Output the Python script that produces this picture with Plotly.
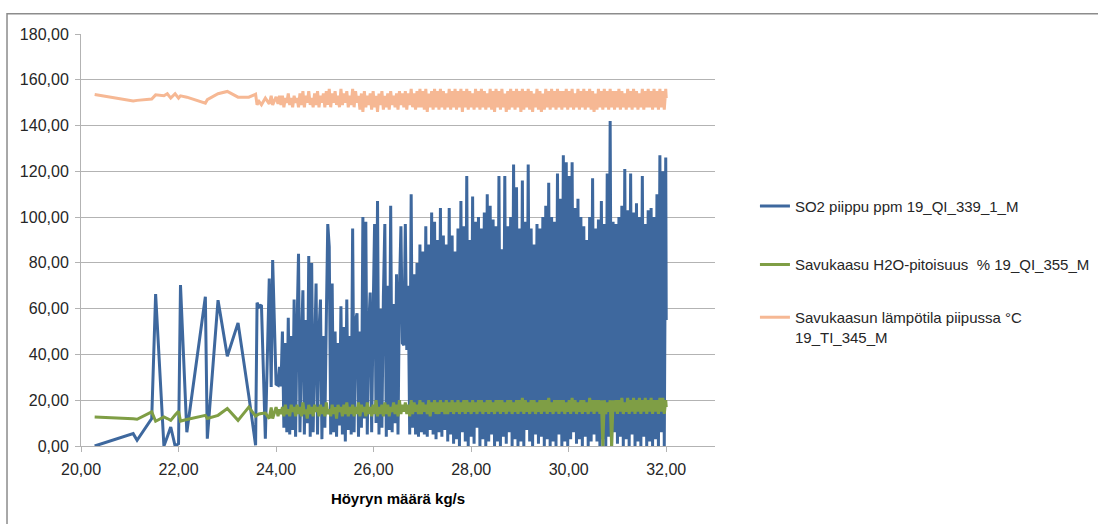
import plotly.graph_objects as go

# ---------------- data ----------------
x_title = "Höyryn määrä kg/s"
series_names = [
    "SO2 piippu ppm 19_QI_339_1_M",
    "Savukaasu H2O-pitoisuus  % 19_QI_355_M",
    "Savukaasun lämpötila piipussa °C<br>19_TI_345_M",
]
series_colors = ["#3E689E", "#7F9E45", "#F6B894"]

y_tick_values = [0, 20, 40, 60, 80, 100, 120, 140, 160, 180]
y_tick_labels = ["0,00", "20,00", "40,00", "60,00", "80,00", "100,00",
                 "120,00", "140,00", "160,00", "180,00"]
x_tick_values = [20, 22, 24, 26, 28, 30, 32]
x_tick_labels = ["20,00", "22,00", "24,00", "26,00", "28,00", "30,00", "32,00"]

# low-load part (few rows)
steam_sparse = [20.28, 21.07, 21.15, 21.45, 21.53, 21.70, 21.77, 21.84, 21.93, 22.00,
                22.04, 22.17, 22.55, 22.59, 22.81, 23.00, 23.22, 23.44, 23.58, 23.61,
                23.65, 23.70, 23.78, 23.86, 23.90, 23.93, 24.00, 24.04, 24.07]
so2_sparse = [0.0, 5.4, 2.5, 12.0, 66.4, 0.0, 4.0, 8.3, 0.0, 1.0,
              70.3, 6.0, 65.2, 3.2, 63.7, 39.2, 53.8, 22.0, 0.3, 62.6,
              60.8, 61.6, 3.2, 73.2, 25.8, 81.2, 27.0, 26.5, 34.6]
h2o_sparse = [12.7, 11.9, 11.7, 14.9, 10.8, 12.7, 12.0, 11.2, 13.5, 15.2,
              10.9, 11.6, 13.4, 12.0, 13.4, 16.4, 11.2, 17.0, 13.0, 13.5,
              14.0, 14.2, 14.4, 12.0, 16.8, 12.0, 17.0, 13.0, 16.0]
temp_sparse = [153.6, 150.7, 151.0, 151.6, 153.4, 153.0, 153.9, 152.0, 153.9, 152.0,
               153.0, 152.4, 149.8, 151.3, 153.9, 154.9, 152.4, 152.4, 153.7, 149.1,
               150.5, 149.1, 152.0, 149.5, 153.0, 149.0, 152.5, 149.5, 153.0]

# high-load part (dense rows)
steam_dense = [
    24.10, 24.13, 24.16, 24.19, 24.22, 24.25, 24.28, 24.31, 24.34, 24.37, 24.40, 24.43,
    24.46, 24.49, 24.52, 24.55, 24.58, 24.61, 24.64, 24.67, 24.70, 24.73, 24.76, 24.79,
    24.82, 24.85, 24.88, 24.91, 24.94, 24.97, 25.00, 25.03, 25.06, 25.09, 25.12, 25.15,
    25.18, 25.21, 25.24, 25.27, 25.30, 25.33, 25.36, 25.39, 25.42, 25.45, 25.48, 25.51,
    25.54, 25.57, 25.60, 25.63, 25.66, 25.69, 25.72, 25.75, 25.78, 25.81, 25.84, 25.87,
    25.90, 25.93, 25.96, 25.99, 26.02, 26.05, 26.08, 26.11, 26.14, 26.17, 26.20, 26.23,
    26.26, 26.29, 26.32, 26.35, 26.38, 26.41, 26.44, 26.47, 26.50, 26.53, 26.56, 26.59,
    26.62, 26.65, 26.68, 26.71, 26.74, 26.77, 26.80, 26.83, 26.86, 26.89, 26.92, 26.95,
    26.98, 27.01, 27.04, 27.07, 27.10, 27.13, 27.16, 27.19, 27.22, 27.25, 27.28, 27.31,
    27.34, 27.37, 27.40, 27.43, 27.46, 27.49, 27.52, 27.55, 27.58, 27.61, 27.64, 27.67,
    27.70, 27.73, 27.76, 27.79, 27.82, 27.85, 27.88, 27.91, 27.94, 27.97, 28.00, 28.03,
    28.06, 28.09, 28.12, 28.15, 28.18, 28.21, 28.24, 28.27, 28.30, 28.33, 28.36, 28.39,
    28.42, 28.45, 28.48, 28.51, 28.54, 28.57, 28.60, 28.63, 28.66, 28.69, 28.72, 28.75,
    28.78, 28.81, 28.84, 28.87, 28.90, 28.93, 28.96, 28.99, 29.02, 29.05, 29.08, 29.11,
    29.14, 29.17, 29.20, 29.23, 29.26, 29.29, 29.32, 29.35, 29.38, 29.41, 29.44, 29.47,
    29.50, 29.53, 29.56, 29.59, 29.62, 29.65, 29.68, 29.71, 29.74, 29.77, 29.80, 29.83,
    29.86, 29.89, 29.92, 29.95, 29.98, 30.01, 30.04, 30.07, 30.10, 30.13, 30.16, 30.19,
    30.22, 30.25, 30.28, 30.31, 30.34, 30.37, 30.40, 30.43, 30.46, 30.49, 30.52, 30.55,
    30.58, 30.61, 30.64, 30.67, 30.70, 30.73, 30.76, 30.79, 30.82, 30.85, 30.88, 30.91,
    30.94, 30.97, 31.00, 31.03, 31.06, 31.09, 31.12, 31.15, 31.18, 31.21, 31.24, 31.27,
    31.30, 31.33, 31.36, 31.39, 31.42, 31.45, 31.48, 31.51, 31.54, 31.57, 31.60, 31.63,
    31.66, 31.69, 31.72, 31.75, 31.78, 31.81, 31.84, 31.87, 31.90, 31.93, 31.96, 31.99,
    32.00]
so2_dense = [
    26, 50, 8, 45, 6, 56, 5, 48, 7, 64, 4, 52,
    84, 6, 45, 68, 5, 55, 10, 83, 4, 80, 6, 40,
    71, 5, 50, 64, 3, 48, 8, 55, 97, 87, 5, 71,
    6, 50, 4, 45, 9, 61, 5, 52, 2, 64, 7, 48,
    5, 95, 6, 55, 58, 4, 50, 8, 100, 12, 98, 5,
    52, 67, 6, 58, 97, 10, 107, 5, 60, 8, 65, 97,
    4, 70, 7, 105, 6, 62, 10, 75, 5, 68, 96, 45,
    44, 97, 42, 70, 5, 110, 8, 75, 5, 80, 4, 88,
    6, 85, 5, 96, 4, 88, 7, 102, 5, 98, 3, 90,
    6, 104, 4, 92, 7, 88, 2, 104, 5, 92, 1, 85,
    3, 95, 0, 107, 6, 96, 2, 118, 0, 90, 4, 109,
    1, 98, 8, 100, 0, 95, 3, 102, 0, 110, 2, 105,
    5, 99, 0, 96, 2, 118, 0, 86, 4, 118, 1, 96,
    6, 100, 0, 123, 3, 113, 0, 95, 2, 116, 0, 98,
    7, 123, 2, 95, 0, 88, 5, 97, 1, 95, 4, 100,
    0, 105, 3, 115, 0, 100, 2, 98, 0, 119, 5, 108,
    0, 127, 2, 124, 0, 118, 3, 124, 6, 104, 1, 108,
    3, 100, 0, 96, 4, 90, 0, 100, 2, 117, 5, 95,
    2, 99, 0, 107, 3, 97, 0, 119, 4, 142, 0, 98,
    6, 97, 1, 100, 4, 105, 0, 121, 3, 103, 0, 119,
    5, 102, 0, 106, 2, 100, 0, 118, 4, 97, 0, 103,
    2, 104, 0, 100, 3, 110, 0, 127, 6, 120, 0, 126,
    55]
h2o_dense = [
    14, 17, 13, 18, 14, 16, 13, 18, 15, 17, 13, 18,
    14, 17, 13, 19, 14, 16, 12, 18, 14, 17, 13, 18,
    15, 17, 13, 18, 14, 17, 13, 19, 14, 16, 13, 18,
    14, 17, 12, 18, 15, 17, 13, 18, 14, 19, 13, 17,
    14, 18, 13, 17, 14, 19, 13, 18, 15, 17, 13, 19,
    14, 17, 13, 18, 14, 20, 13, 17, 14, 18, 13, 19,
    14, 18, 13, 17, 15, 19, 14, 18, 13, 20, 14, 18,
    15, 19, 14, 18, 13, 20, 14, 19, 15, 18, 14, 20,
    14, 19, 15, 18, 14, 20, 13, 19, 15, 20, 14, 19,
    14, 20, 15, 19, 14, 20, 14, 19, 15, 20, 14, 19,
    15, 20, 14, 19, 15, 20, 14, 20, 15, 19, 14, 20,
    15, 19, 14, 20, 15, 20, 14, 19, 15, 20, 14, 20,
    15, 19, 14, 20, 15, 20, 14, 20, 15, 19, 14, 20,
    15, 20, 14, 19, 15, 20, 14, 20, 15, 21, 14, 20,
    15, 19, 14, 20, 15, 20, 14, 19, 15, 20, 14, 20,
    15, 20, 14, 21, 15, 19, 14, 20, 15, 20, 14, 20,
    15, 20, 14, 19, 15, 20, 14, 21, 15, 20, 14, 19,
    15, 20, 14, 20, 15, 19, 14, 21, 15, 20, 14, 20,
    15, 20, 14, 20, 0, 20, 14, 19, 15, 20, 0, 20,
    15, 20, 14, 20, 15, 21, 14, 19, 15, 21, 14, 20,
    15, 21, 14, 20, 15, 21, 14, 20, 15, 21, 14, 20,
    15, 21, 14, 20, 15, 20, 14, 21, 15, 21, 14, 20,
    17]
temp_dense = [
    149, 153, 148, 152, 150, 154, 149, 152, 148, 153, 150, 152,
    148, 154, 149, 155, 148, 153, 150, 155, 149, 152, 148, 154,
    149, 155, 148, 153, 150, 154, 148, 155, 149, 156, 148, 154,
    150, 155, 149, 153, 148, 156, 149, 154, 150, 155, 148, 153,
    149, 156, 148, 155, 150, 153, 147, 154, 146, 155, 148, 153,
    149, 154, 147, 155, 148, 153, 146, 154, 149, 155, 147, 153,
    148, 154, 147, 155, 149, 153, 148, 154, 147, 155, 149, 154,
    148, 155, 147, 154, 149, 156, 148, 154, 147, 155, 148, 156,
    148, 155, 147, 156, 146, 154, 148, 155, 147, 156, 148, 155,
    147, 156, 148, 155, 147, 154, 148, 156, 147, 155, 148, 156,
    147, 155, 148, 156, 146, 155, 148, 156, 147, 155, 148, 154,
    147, 156, 148, 155, 147, 156, 148, 155, 147, 154, 148, 156,
    147, 155, 146, 156, 148, 155, 147, 156, 148, 154, 146, 155,
    147, 156, 148, 155, 147, 156, 148, 155, 146, 156, 147, 155,
    148, 156, 147, 155, 146, 154, 148, 156, 147, 155, 146, 154,
    147, 156, 148, 155, 147, 156, 148, 155, 147, 156, 148, 155,
    147, 155, 148, 156, 147, 155, 148, 156, 147, 154, 148, 156,
    147, 155, 148, 156, 147, 155, 148, 156, 147, 155, 146, 154,
    147, 156, 148, 155, 147, 156, 148, 155, 147, 156, 148, 155,
    147, 155, 148, 156, 147, 155, 148, 154, 147, 156, 148, 155,
    147, 156, 148, 155, 147, 154, 148, 156, 147, 155, 148, 156,
    148, 155, 147, 156, 148, 155, 147, 156, 148, 155, 147, 156,
    152]

for arr in (so2_dense, h2o_dense, temp_dense):
    assert len(arr) == len(steam_dense), (len(arr), len(steam_dense))

steam = steam_sparse + steam_dense
series_values = [so2_sparse + so2_dense,
                 h2o_sparse + h2o_dense,
                 temp_sparse + temp_dense]

# ---------------- figure ----------------
font_family = "Liberation Sans, Arial, sans-serif"
text_color = "#262626"
grid_color = "#B3B3B3"
legend_ids = ["legend", "legend2", "legend3"]
legend_y = [0.622, 0.480, 0.352]

fig = go.Figure()
for i, (name, vals, col) in enumerate(zip(series_names, series_values, series_colors)):
    fig.add_trace(go.Scatter(
        x=steam, y=vals, mode="lines", name=name, legend=legend_ids[i],
        line=dict(color=col, width=3, simplify=False), hoverinfo="skip"))

legend_common = dict(x=1.063, xanchor="left", yanchor="top",
                     font=dict(family=font_family, size=15, color=text_color),
                     valign="top", bgcolor="rgba(0,0,0,0)")

fig.update_layout(
    width=1098, height=524,
    margin=dict(l=81, r=383, t=34, b=78, autoexpand=False),
    paper_bgcolor="white", plot_bgcolor="white",
    font=dict(family=font_family, size=15, color=text_color),
    showlegend=True,
    legend=dict(y=legend_y[0], **legend_common),
    legend2=dict(y=legend_y[1], **legend_common),
    legend3=dict(y=legend_y[2], **legend_common),
    xaxis=dict(range=[20, 33], tickvals=x_tick_values, ticktext=x_tick_labels,
               showgrid=False, zeroline=False, showline=True, linecolor=grid_color,
               linewidth=1, ticks="outside", ticklen=5, tickcolor=grid_color,
               ticklabelstandoff=4,
               tickfont=dict(size=16, color=text_color),
               title=dict(text="<b>" + x_title + "</b>", standoff=16,
                          font=dict(size=15, color="#000000"))),
    yaxis=dict(range=[0, 180], tickvals=y_tick_values, ticktext=y_tick_labels,
               showgrid=True, gridcolor=grid_color, gridwidth=1, zeroline=False,
               showline=True, linecolor=grid_color, linewidth=1,
               ticks="outside", ticklen=5, tickcolor=grid_color,
               ticklabelstandoff=3,
               tickfont=dict(size=16, color=text_color)),
)

# chart area border (extends past the picture on right and bottom)
fig.add_shape(type="rect", xref="paper", yref="paper",
              x0=-0.1167, x1=1.61, y0=-0.2, y1=1.0494,
              line=dict(color="#8C8C8C", width=1.5), fillcolor="rgba(0,0,0,0)",
              layer="below")

fig.write_html("out.html", config={"displayModeBar": False, "staticPlot": True})
